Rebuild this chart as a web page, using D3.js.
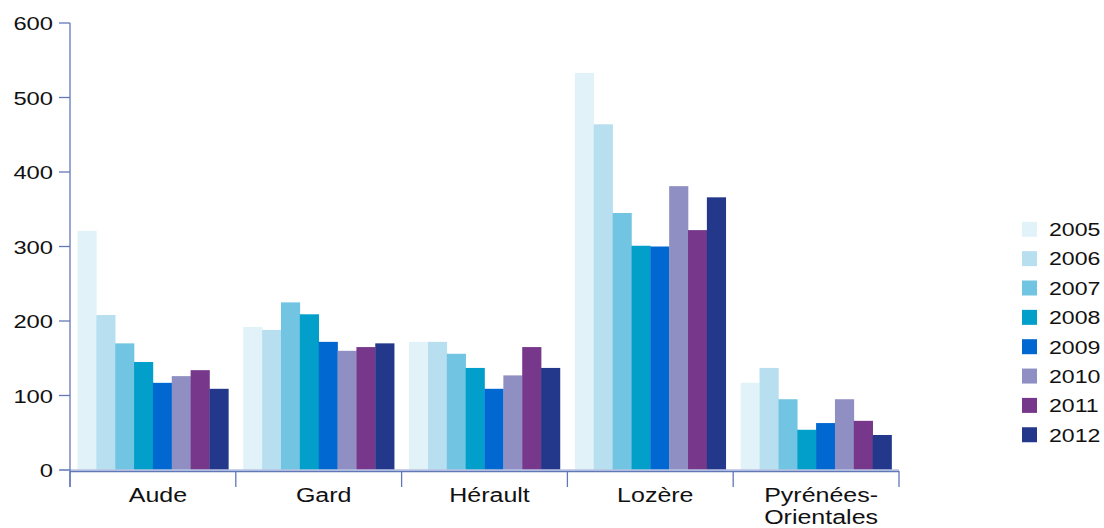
<!DOCTYPE html>
<html><head><meta charset="utf-8">
<script src="https://cdn.jsdelivr.net/npm/d3@7"></script>
<style>body{margin:0;background:#fff}svg{display:block}text{font-family:"Liberation Sans",Arial,sans-serif;fill:#111}</style>
</head><body><svg id="c" width="1104" height="528"></svg>
<script>
const categories = ["Aude","Gard","Hérault","Lozère","Pyrénées-Orientales"];
const years = ["2005","2006","2007","2008","2009","2010","2011","2012"];
const v2005 = [321, 192, 172, 533, 117];
const v2006 = [208, 188, 172, 464, 137];
const v2007 = [170, 225, 156, 345, 95];
const v2008 = [145, 209, 137, 301, 54];
const v2009 = [117, 172, 109, 300, 63];
const v2010 = [126, 160, 127, 381, 95];
const v2011 = [134, 165, 165, 322, 66];
const v2012 = [109, 170, 137, 366, 47];
const yTicks = [0,100,200,300,400,500,600];
const colors = ["#e1f3f8","#b7dff0","#72c5e2","#029fca","#0068d0","#8f8fc3","#77378b","#23388a"];

const series = [v2005,v2006,v2007,v2008,v2009,v2010,v2011,v2012];
const svg = d3.select("#c");
const SX = 1.25; // horizontal text stretch seen in reference
const axisColor = "#6277b8";

const x = d3.scaleBand().domain(categories).range([70,899]).paddingInner(0.09).paddingOuter(0.045);
const xi = d3.scaleBand().domain(years).range([0,x.bandwidth()]);
const y = d3.scaleLinear().domain([0,600]).range([470,23]);

// bars
categories.forEach((c,ci)=>{
  const g = svg.append("g").attr("transform",`translate(${x(c)},0)`);
  years.forEach((yr,yi)=>{
    const v = series[yi][ci];
    g.append("rect").attr("x",xi(yr)).attr("y",y(v)).attr("width",xi.bandwidth()+0.3)
      .attr("height",y(0)-y(v)).attr("fill",colors[yi]);
  });
});

// light baseline
svg.append("line").attr("x1",60).attr("x2",899).attr("y1",470).attr("y2",470).attr("stroke","#b8c4e4").attr("stroke-width",1.5);

// y axis
svg.append("line").attr("x1",70).attr("x2",70).attr("y1",y(600)).attr("y2",487).attr("stroke",axisColor).attr("stroke-width",1.3);
yTicks.forEach(t=>{
  svg.append("line").attr("x1",59).attr("x2",70).attr("y1",y(t)).attr("y2",y(t)).attr("stroke",axisColor).attr("stroke-width",1.3);
  svg.append("text").attr("transform",`translate(53,${y(t)+7}) scale(${SX},1)`).attr("text-anchor","end")
    .style("font-size","19px").text(t);
});

// x axis
svg.append("line").attr("x1",70).attr("x2",899).attr("y1",471.5).attr("y2",471.5).attr("stroke",axisColor).attr("stroke-width",1.3);
d3.range(categories.length+1).forEach(i=>{
  const bx = x.range()[0] + i*x.step();
  svg.append("line").attr("x1",bx).attr("x2",bx).attr("y1",471).attr("y2",487).attr("stroke",axisColor).attr("stroke-width",1.3);
});
categories.forEach(c=>{
  const cx = x(c)+x.bandwidth()/2 + 5;
  const parts = c.includes("-") ? [c.split("-")[0]+"-", c.split("-")[1]] : [c];
  parts.forEach((p,pi)=>{
    svg.append("text").attr("transform",`translate(${cx},${502+pi*22}) scale(${SX},1)`).attr("text-anchor","middle")
      .style("font-size","20px").text(p);
  });
});

// legend
years.forEach((yr,i)=>{
  const cy = 229.3 + i*29.35;
  svg.append("rect").attr("x",1022).attr("y",cy-7.5).attr("width",15).attr("height",15).attr("fill",colors[i]);
  svg.append("text").attr("transform",`translate(1049,${cy+6.8}) scale(${SX},1)`).style("font-size","18.5px").text(yr);
});
</script></body></html>
